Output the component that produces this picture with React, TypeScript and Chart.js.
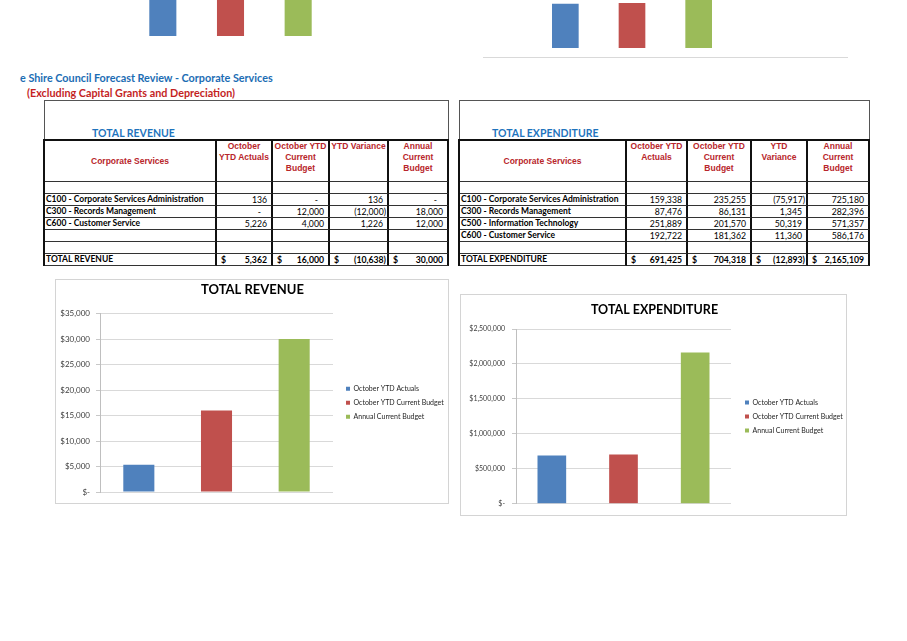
import React, { useEffect, useRef } from 'react';
import { Chart, registerables } from 'chart.js';

Chart.register(...registerables);

// ---------------- data ----------------
const pageTitle = 'e Shire Council Forecast Review - Corporate Services';
const pageSubtitle = '(Excluding Capital Grants and Depreciation)';

const seriesNames = ['October YTD Actuals', 'October YTD Current Budget', 'Annual Current Budget'];
const seriesColors = ['#4f81bd', '#c0504d', '#9bbb59'];

const revenueHeading = 'TOTAL REVENUE';
const revenueHeaders = ['Corporate Services', 'October\nYTD Actuals', 'October YTD\nCurrent\nBudget', 'YTD Variance', 'Annual\nCurrent\nBudget'];
const revenueUnits = ['C100 - Corporate Services Administration', 'C300 - Records Management', 'C600 - Customer Service'];
const revenueActuals = [136, 0, 5226];
const revenueBudget = [0, 12000, 4000];
const revenueVariance = [136, -12000, 1226];
const revenueAnnual = [0, 18000, 12000];
const revenueTotals = [5362, 16000, -10638, 30000];
const revenueBlankAfter = 2;

const expenditureHeading = 'TOTAL EXPENDITURE';
const expenditureHeaders = ['Corporate Services', 'October YTD\nActuals', 'October YTD\nCurrent Budget', 'YTD\nVariance', 'Annual\nCurrent\nBudget'];
const expenditureUnits = ['C100 - Corporate Services Administration', 'C300 - Records Management', 'C500 - Information Technology', 'C600 - Customer Service'];
const expenditureActuals = [159338, 87476, 251889, 192722];
const expenditureBudget = [235255, 86131, 201570, 181362];
const expenditureVariance = [-75917, 1345, 50319, 11360];
const expenditureAnnual = [725180, 282396, 571357, 586176];
const expenditureTotals = [691425, 704318, -12893, 2165109];
const expenditureBlankAfter = 1;

const revenueChartValues = [5362, 16000, 30000];
const revenueAxisMax = 35000;
const revenueAxisStep = 5000;

const expenditureChartValues = [691425, 704318, 2165109];
const expenditureAxisMax = 2500000;
const expenditureAxisStep = 500000;

// cut-off charts at the top of the page (only the lower ends of the bars are visible)
const fragmentLeftValues = [130, 130, 130];
const fragmentRightValues = [92, 94, 130];

// ---------------- helpers ----------------
const CAL = 'Lato, "Open Sans", sans-serif';
const ARIAL = '"Liberation Sans", Arial, sans-serif';

function fmt(v: number) {
  if (v === 0) return '-';
  const s = Math.abs(v).toLocaleString('en-US');
  return v < 0 ? `(${s})` : s;
}

function placeBlocks(gap: number, titleCenter: number) {
  return {
    id: 'placeBlocks',
    afterLayout(chart: any) {
      const ca = chart.chartArea;
      const lg = chart.legend;
      if (lg) {
        lg.left = ca.right + gap;
        lg.width = 140;
        lg.right = lg.left + 140;
        lg.top = ca.top;
        lg.bottom = ca.bottom;
        lg.height = ca.bottom - ca.top;
      }
      const tb = chart.titleBlock;
      if (tb) {
        const w = tb.right - tb.left;
        tb.left = titleCenter - w / 2;
        tb.right = titleCenter + w / 2;
      }
    },
  };
}

type MainOpts = {
  values: number[];
  max: number;
  step: number;
  title: string;
  titleSize: number;
  titlePad: { top: number; bottom: number };
  titleCenter: number;
  pad: { left: number; right: number; top: number; bottom: number };
  yWidth: number;
  tickSize: number;
  tickPad: number;
  legendGap: number;
};

function mainConfig(o: MainOpts): any {
  return {
    type: 'bar',
    data: {
      labels: [''],
      datasets: seriesNames.map((name, i) => ({
        label: name,
        data: [o.values[i]],
        backgroundColor: seriesColors[i],
        borderWidth: 0,
        barPercentage: 0.4,
        categoryPercentage: 1.0,
      })),
    },
    options: {
      animation: false,
      responsive: false,
      maintainAspectRatio: false,
      devicePixelRatio: 1,
      layout: { padding: o.pad },
      plugins: {
        title: {
          display: true,
          text: o.title,
          color: '#000',
          font: { family: CAL, size: o.titleSize, weight: 'bold' },
          padding: o.titlePad,
        },
        legend: {
          display: true,
          position: 'right',
          fullSize: false,
          maxWidth: 90,
          labels: {
            boxWidth: 4,
            boxHeight: 4,
            padding: 7,
            color: '#1f1f1f',
            font: { family: CAL, size: 7 },
          },
        },
        tooltip: { enabled: false },
      },
      scales: {
        x: { display: false },
        y: {
          min: 0,
          max: o.max,
          ticks: {
            stepSize: o.step,
            color: '#404040',
            padding: o.tickPad,
            font: { family: CAL, size: o.tickSize },
            callback: (v: any) => (Number(v) === 0 ? '$-' : '$' + Number(v).toLocaleString('en-US')),
          },
          grid: { color: '#d9d9d9', tickLength: 4, tickColor: '#c8c8c8' },
          border: { color: '#bfbfbf' },
          afterFit: (s: any) => {
            s.width = o.yWidth;
          },
        },
      },
    },
    plugins: [placeBlocks(o.legendGap, o.titleCenter)],
  };
}

function fragmentConfig(values: number[]): any {
  return {
    type: 'bar',
    data: {
      labels: [''],
      datasets: seriesNames.map((name, i) => ({
        label: name,
        data: [values[i]],
        backgroundColor: seriesColors[i],
        borderWidth: 0,
        barPercentage: 0.4,
        categoryPercentage: 1.0,
      })),
    },
    options: {
      animation: false,
      responsive: false,
      maintainAspectRatio: false,
      devicePixelRatio: 1,
      layout: { padding: 0 },
      plugins: { legend: { display: false }, title: { display: false }, tooltip: { enabled: false } },
      scales: { x: { display: false }, y: { display: false, min: 0, max: 100 } },
    },
  };
}

function ChartCanvas(props: { left: number; top: number; width: number; height: number; config: () => any }) {
  const ref = useRef<HTMLCanvasElement>(null);
  useEffect(() => {
    const chart = new Chart(ref.current as HTMLCanvasElement, props.config());
    return () => chart.destroy();
  }, []);
  return (
    <canvas
      ref={ref}
      width={props.width}
      height={props.height}
      style={{ position: 'absolute', left: props.left, top: props.top, width: props.width, height: props.height }}
    />
  );
}

type Row = { label: string; values: number[] | null; total?: boolean };

function buildRows(units: string[], cols: number[][], totals: number[], blanksAfter: number, totalLabel: string): Row[] {
  const rows: Row[] = [{ label: '', values: null }];
  units.forEach((u, i) => rows.push({ label: u, values: cols.map((c) => c[i]) }));
  for (let i = 0; i < blanksAfter; i++) rows.push({ label: '', values: null });
  rows.push({ label: totalLabel, values: totals, total: true });
  return rows;
}

function FinanceTable(props: {
  bounds: number[];
  heading: string;
  headingLeft: number;
  headers: string[];
  rows: Row[];
}) {
  const { bounds, heading, headingLeft, headers, rows } = props;
  const left = bounds[0];
  const right = bounds[bounds.length - 1];
  const widths = bounds.slice(1).map((b, i) => b - (i === 0 ? bounds[0] + 1 : bounds[i]));
  const vBorder = '2px solid #111';
  const hBorder = '1px solid #333';
  const cells: React.ReactNode[] = [];
  headers.forEach((h, i) => {
    cells.push(
      <div
        key={'h' + i}
        style={{
          boxSizing: 'border-box',
          borderRight: vBorder,
          borderBottom: hBorder,
          display: 'flex',
          alignItems: i === 0 ? 'center' : 'flex-start',
          justifyContent: 'center',
          textAlign: 'center',
          whiteSpace: 'pre-line',
          fontFamily: ARIAL,
          fontWeight: 'bold',
          fontSize: 8.5,
          lineHeight: '11px',
          color: '#b8262b',
        }}
      >
        {h}
      </div>
    );
  });
  rows.forEach((r, ri) => {
    cells.push(
      <div
        key={'l' + ri}
        style={{
          boxSizing: 'border-box',
          borderRight: vBorder,
          borderBottom: hBorder,
          fontFamily: CAL,
          fontWeight: 'bold',
          fontSize: 8.5,
          lineHeight: '11px',
          paddingLeft: 1,
          whiteSpace: 'nowrap',
          overflow: 'hidden',
          color: '#000',
        }}
      >
        {r.label}
      </div>
    );
    for (let c = 0; c < 4; c++) {
      const v = r.values ? r.values[c] : null;
      const pr = v === null ? 0 : v === 0 ? 10 : v < 0 ? 1 : 4;
      cells.push(
        <div
          key={'c' + ri + '_' + c}
          style={{
            boxSizing: 'border-box',
            borderRight: vBorder,
            borderBottom: hBorder,
            fontFamily: CAL,
            fontWeight: r.total ? 'bold' : 'normal',
            fontSize: 8.7,
            lineHeight: '11px',
            display: 'flex',
            justifyContent: 'space-between',
            paddingLeft: 4,
            paddingRight: pr,
            whiteSpace: 'nowrap',
            color: '#000',
          }}
        >
          <span>{r.total ? '$' : ''}</span>
          <span>{v === null ? '' : fmt(v)}</span>
        </div>
      );
    }
  });
  return (
    <>
      <div
        style={{
          position: 'absolute',
          left,
          top: 100,
          width: right - left,
          height: 41,
          boxSizing: 'border-box',
          borderTop: '1px solid #555',
          borderLeft: '1px solid #555',
          borderRight: '1px solid #555',
        }}
      />
      <div
        style={{
          position: 'absolute',
          left: headingLeft,
          top: 126,
          fontFamily: CAL,
          fontWeight: 'bold',
          fontSize: 10.5,
          lineHeight: '14px',
          color: '#1f74bd',
          whiteSpace: 'nowrap',
        }}
      >
        {heading}
      </div>
      <div
        style={{
          position: 'absolute',
          left: left - 1,
          top: 139,
          display: 'grid',
          gridTemplateColumns: widths.map((w) => w + 'px').join(' '),
          gridTemplateRows: '41px repeat(' + rows.length + ', 12px)',
          borderTop: vBorder,
          borderLeft: vBorder,
        }}
      >
        {cells}
      </div>
    </>
  );
}

export default function App() {
  const revenueRows = buildRows(revenueUnits, [revenueActuals, revenueBudget, revenueVariance, revenueAnnual], revenueTotals, revenueBlankAfter, 'TOTAL REVENUE');
  const expenditureRows = buildRows(
    expenditureUnits,
    [expenditureActuals, expenditureBudget, expenditureVariance, expenditureAnnual],
    expenditureTotals,
    expenditureBlankAfter,
    'TOTAL EXPENDITURE'
  );
  return (
    <div style={{ position: 'fixed', left: 0, top: 0, width: 907, height: 641, background: '#fff', overflow: 'hidden' }}>
      {/* cut-off charts at top */}
      <ChartCanvas left={129} top={0} width={203} height={36} config={() => fragmentConfig(fragmentLeftValues)} />
      <ChartCanvas left={532} top={0} width={200} height={48} config={() => fragmentConfig(fragmentRightValues)} />
      <div style={{ position: 'absolute', left: 483, top: 57, width: 365, height: 1, background: '#d9d9d9' }} />

      <div style={{ position: 'absolute', left: 20, top: 71, fontFamily: CAL, fontWeight: 'bold', fontSize: 10.8, lineHeight: '14px', color: '#1c6db4', whiteSpace: 'nowrap' }}>
        {pageTitle}
      </div>
      <div style={{ position: 'absolute', left: 27, top: 86, fontFamily: CAL, fontWeight: 'bold', fontSize: 10.8, lineHeight: '14px', color: '#c41f1f', whiteSpace: 'nowrap' }}>
        {pageSubtitle}
      </div>

      <FinanceTable bounds={[44, 217, 273, 330, 389, 449]} heading={revenueHeading} headingLeft={92} headers={revenueHeaders} rows={revenueRows} />
      <FinanceTable bounds={[459, 627, 688, 752, 808, 870]} heading={expenditureHeading} headingLeft={492} headers={expenditureHeaders} rows={expenditureRows} />

      {/* revenue chart */}
      <div style={{ position: 'absolute', left: 55, top: 279, width: 394, height: 225, boxSizing: 'border-box', border: '1px solid #d4d4d4' }} />
      <ChartCanvas
        left={56}
        top={280}
        width={392}
        height={223}
        config={() =>
          mainConfig({
            values: revenueChartValues,
            max: revenueAxisMax,
            step: revenueAxisStep,
            title: 'TOTAL REVENUE',
            titleSize: 13,
            titlePad: { top: 2, bottom: 16 },
            titleCenter: 196.5,
            pad: { left: 0, right: 25, top: 0, bottom: 11 },
            yWidth: 44,
            tickSize: 8,
            tickPad: 6,
            legendGap: 6,
          })
        }
      />

      {/* expenditure chart */}
      <div style={{ position: 'absolute', left: 460, top: 294, width: 387, height: 222, boxSizing: 'border-box', border: '1px solid #d4d4d4' }} />
      <ChartCanvas
        left={461}
        top={295}
        width={385}
        height={220}
        config={() =>
          mainConfig({
            values: expenditureChartValues,
            max: expenditureAxisMax,
            step: expenditureAxisStep,
            title: 'TOTAL EXPENDITURE',
            titleSize: 12.5,
            titlePad: { top: 7, bottom: 12 },
            titleCenter: 193.5,
            pad: { left: 0, right: 25, top: 0, bottom: 10 },
            yWidth: 55,
            tickSize: 7,
            tickPad: 7,
            legendGap: 7,
          })
        }
      />
    </div>
  );
}
